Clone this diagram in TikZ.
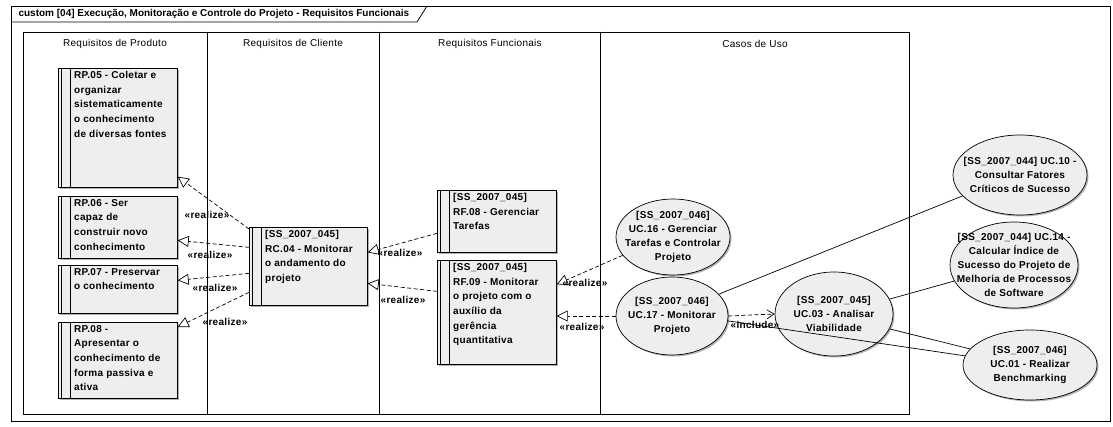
\documentclass[tikz,border=0pt]{standalone}
\usepackage{fontspec}
\setmainfont{Liberation Sans}
\newfontfamily\umlfont[LetterSpace=3]{Liberation Sans}
\newcommand{\boxfont}{\umlfont\bfseries\fontsize{10}{14.7}\selectfont}
\newcommand{\ucfont}{\umlfont\bfseries\fontsize{10}{14}\selectfont}
\usetikzlibrary{shapes.geometric,arrows.meta,shadows}

\tikzset{
  reqbox/.style={draw, fill=umlfill, anchor=north west, inner sep=0pt, line width=0.7pt,
    drop shadow={shadow xshift=1.5pt, shadow yshift=-1.5pt, fill=gray!60, opacity=1},
    path picture={
      \draw ([xshift=3pt]path picture bounding box.north west) -- ([xshift=3pt]path picture bounding box.south west);
      \draw[line width=1.3pt] ([xshift=12pt]path picture bounding box.north west) -- ([xshift=12pt]path picture bounding box.south west);
    }},
  reqtext/.style={anchor=north west, xshift=16pt, yshift=-3pt, inner sep=0pt, align=left, font=\boxfont},
  usecase/.style={ellipse, draw, fill=umlfill, line width=0.7pt, inner sep=0pt,
    drop shadow={shadow xshift=1.5pt, shadow yshift=-1.5pt, fill=gray!60, opacity=1}},
  uctext/.style={anchor=center, inner sep=0pt, align=center, font=\ucfont},
  realize/.style={line width=0.7pt, dash pattern=on 4pt off 2.5pt, -{Triangle[open, length=11pt, width=11pt]}},
  include/.style={line width=0.7pt, dash pattern=on 4pt off 2.5pt, -{Straight Barb[length=7pt, width=9pt]}},
  assoc/.style={line width=0.7pt},
  stereo/.style={font=\boxfont, inner sep=0.5pt},
  lanehead/.style={font=\umlfont\fontsize{10}{12}\selectfont}
}

\begin{document}
\begin{tikzpicture}[x=1pt, y=-1pt]
  \definecolor{umlfill}{RGB}{238,238,238}
  \useasboundingbox (0,0) rectangle (1113,427);

  % Diagram frame and title tab
  \draw[line width=0.8pt] (11,6) rectangle (1110,421);
  \draw[line width=0.8pt] (11,22) -- (417,22) -- (427,6);
  \node[anchor=west, font=\bfseries\fontsize{10}{12}\selectfont] (title) at (15,14) {custom [04] Execução, Monitoração e Controle do Projeto - Requisitos Funcionais};

  % Swimlanes
  \draw[line width=0.9pt] (23,32) rectangle (909,414);
  \foreach \x in {207,379,600}
    \draw[line width=0.9pt] (\x,32) -- (\x,414);
  \node[lanehead] (hprod) at (115,44) {Requisitos de Produto};
  \node[lanehead] (hcli) at (293,44) {Requisitos de Cliente};
  \node[lanehead] (hfunc) at (490,44) {Requisitos Funcionais};
  \node[lanehead] (hcasos) at (755,44) {Casos de Uso};

  % Product requirements
  \node[reqbox, minimum width=119pt, minimum height=119pt,
    label={[reqtext]north west:{RP.05 - Coletar e\\organizar\\sistematicamente\\o conhecimento\\de diversas fontes}}] (rp05) at (58,68) {};
  \node[reqbox, minimum width=119pt, minimum height=62pt,
    label={[reqtext]north west:{RP.06 - Ser\\capaz de\\construir novo\\conhecimento}}] (rp06) at (58,196) {};
  \node[reqbox, minimum width=119pt, minimum height=48pt,
    label={[reqtext]north west:{RP.07 - Preservar\\o conhecimento}}] (rp07) at (58,265) {};
  \node[reqbox, minimum width=119pt, minimum height=76pt,
    label={[reqtext]north west:{RP.08 -\\Apresentar o\\conhecimento de\\forma passiva e\\ativa}}] (rp08) at (58,322) {};

  % Client requirement
  \node[reqbox, minimum width=118pt, minimum height=78pt,
    label={[reqtext]north west:{[SS\_2007\_045]\\RC.04 - Monitorar\\o andamento do\\projeto}}] (rc04) at (249,227) {};

  % Functional requirements
  \node[reqbox, minimum width=119pt, minimum height=62pt,
    label={[reqtext]north west:{[SS\_2007\_045]\\RF.08 - Gerenciar\\Tarefas}}] (rf08) at (437,190) {};
  \node[reqbox, minimum width=119pt, minimum height=104pt,
    label={[reqtext]north west:{[SS\_2007\_045]\\RF.09 - Monitorar\\o projeto com o\\auxílio da\\gerência\\quantitativa}}] (rf09) at (437,260) {};

  % Use cases
  \node[usecase, minimum width=114pt, minimum height=76pt,
    label={[uctext]center:{[SS\_2007\_046]\\UC.16 - Gerenciar\\Tarefas e Controlar\\Projeto}}] (uc16) at (673,237) {};
  \node[usecase, minimum width=112pt, minimum height=78pt,
    label={[uctext]center:{[SS\_2007\_046]\\UC.17 - Monitorar\\Projeto}}] (uc17) at (672,316) {};
  \node[usecase, minimum width=118pt, minimum height=84pt,
    label={[uctext]center:{[SS\_2007\_045]\\UC.03 - Analisar\\Viabilidade}}] (uc03) at (834,314) {};
  \node[usecase, minimum width=134pt, minimum height=80pt,
    label={[uctext]center:{[SS\_2007\_044] UC.10 -\\Consultar Fatores\\Críticos de Sucesso}}] (uc10) at (1020,175) {};
  \node[usecase, minimum width=128pt, minimum height=86pt,
    label={[uctext]center:{[SS\_2007\_044] UC.14 -\\Calcular Índice de\\Sucesso do Projeto de\\Melhoria de Processos\\de Software}}] (uc14) at (1014,265) {};
  \node[usecase, minimum width=134pt, minimum height=70pt,
    label={[uctext]center:{[SS\_2007\_046]\\UC.01 - Realizar\\Benchmarking}}] (uc01) at (1030,365) {};

  % Realizations
  \draw[realize] ([yshift=-2pt]rc04.north west) -- ([yshift=11pt]rp05.south east);
  \draw[realize] ([yshift=19pt]rc04.west) -- ([yshift=-13pt]rp06.east);
  \draw[realize] ([yshift=-7pt]rc04.west) -- ([yshift=9pt]rp07.east);
  \draw[realize] ([yshift=-26pt]rc04.west) -- ([yshift=-5pt]rp08.north east);
  \draw[realize] ([yshift=-12pt]rf08.west) -- ([yshift=14pt]rc04.east);
  \draw[realize] ([yshift=21pt]rf09.west) -- ([yshift=-17pt]rc04.east);
  \draw[realize] (uc16.200) -- ([yshift=28pt]rf09.east);
  \draw[realize] (uc17.west) -- (uc17.west -| rf09.east);
  \node[stereo] (lr1) at (207,215) {«realize»};
  \node[stereo] (lr2) at (210,255) {«realize»};
  \node[stereo] (lr3) at (215,288) {«realize»};
  \node[stereo] (lr4) at (225,322) {«realize»};
  \node[stereo] (lr5) at (400,253) {«realize»};
  \node[stereo] (lr6) at (403,300) {«realize»};
  \node[stereo] (lr7) at (585,283) {«realize»};
  \node[stereo] (lr8) at (582,327) {«realize»};

  % Include and associations
  \draw[include] (uc17.east) -- (uc03.west);
  \node[stereo] (li1) at (755,325) {«include»};
  \draw[assoc] (uc17.25) -- (uc10.200);
  \draw[assoc] (uc03.15) -- (uc14.195);
  \draw[assoc] (uc03.-15) -- (uc01.165);
  \draw[assoc] (uc17.-5) -- (uc01.172);
\end{tikzpicture}
\end{document}
